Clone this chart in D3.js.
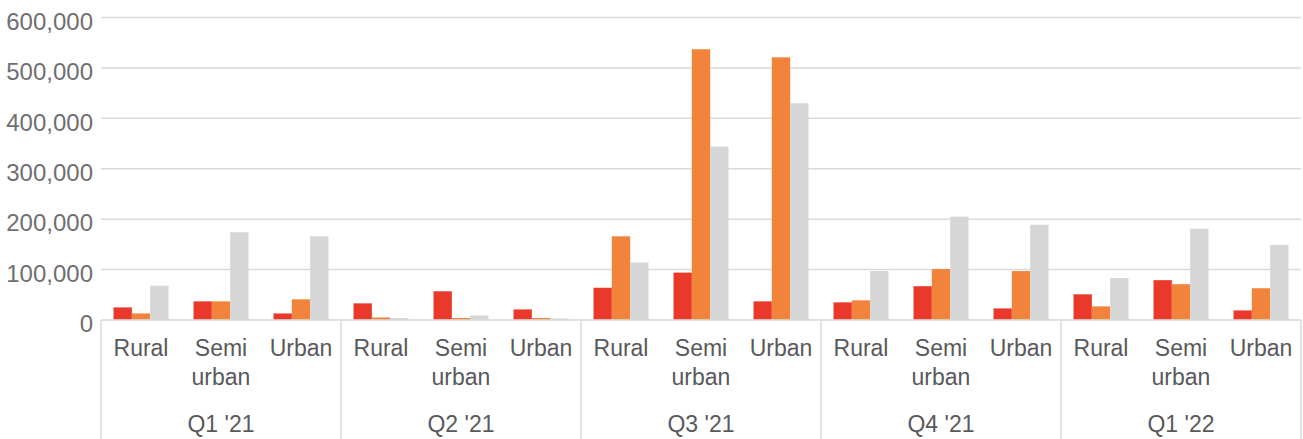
<!DOCTYPE html>
<html>
<head>
<meta charset="utf-8">
<script src="https://cdn.jsdelivr.net/npm/d3@7"></script>
<style>
  html, body { margin: 0; padding: 0; background: #fff; }
  svg { display: block; font-family: "Liberation Sans", Arial, Helvetica, sans-serif; }
</style>
</head>
<body>
<svg id="chart" width="1303" height="439"></svg>
<script>
const quarters = ["Q1 '21", "Q2 '21", "Q3 '21", "Q4 '21", "Q1 '22"];
const areas = ["Rural", "Semi urban", "Urban"];
const seriesNames = ["Series A", "Series B", "Series C"];
// values per quarter, per area: [red, orange, gray]
const seriesA = [ // red
  [25000, 37000, 13000],
  [33000, 57000, 21000],
  [64000, 94000, 37000],
  [35000, 67000, 23000],
  [51000, 79000, 19000]
];
const seriesB = [ // orange
  [13000, 37000, 41000],
  [5000, 4000, 4000],
  [166000, 537000, 521000],
  [39000, 101000, 97000],
  [27000, 71000, 63000]
];
const seriesC = [ // gray
  [68000, 174000, 166000],
  [4000, 9000, 3000],
  [114000, 344000, 430000],
  [97000, 205000, 189000],
  [83000, 181000, 149000]
];
const yTicks = [0, 100000, 200000, 300000, 400000, 500000, 600000];
const colors = ["#e8392b", "#f1833a", "#d6d6d6"];

const svg = d3.select("#chart");
const plotLeft = 101, plotRight = 1301, plotTop = 17.5, plotBase = 320;

const y = d3.scaleLinear().domain([0, 600000]).range([plotBase, plotTop]);
const xQ = d3.scaleBand().domain(quarters).range([plotLeft, plotRight]).padding(0);
const xA = d3.scaleBand().domain(areas).range([0, xQ.bandwidth()])
  .paddingInner(0.3125).paddingOuter(0.15625);
const xS = d3.scaleBand().domain(seriesNames).range([0, xA.bandwidth()]).padding(0);

// gridlines
svg.append("g").selectAll("line").data(yTicks.filter(d => d > 0)).join("line")
  .attr("x1", plotLeft).attr("x2", plotRight)
  .attr("y1", d => y(d)).attr("y2", d => y(d))
  .attr("stroke", "#dadada").attr("stroke-width", 1.5);

// y-axis labels
const yAxis = d3.axisLeft(y).tickValues(yTicks).tickFormat(d3.format(",")).tickSize(0).tickPadding(8);
const ya = svg.append("g").attr("transform", `translate(${plotLeft},4)`).call(yAxis);
ya.select(".domain").remove();
ya.selectAll("text").attr("font-size", 24).attr("fill", "#6e6f72")
  .style("font-family", "'Liberation Sans', Arial, Helvetica, sans-serif");

// bars
const data = [];
quarters.forEach((q, qi) => {
  areas.forEach((a, ai) => {
    [seriesA, seriesB, seriesC].forEach((s, si) => {
      data.push({ q, a, s: seriesNames[si], v: s[qi][ai], c: colors[si] });
    });
  });
});
svg.append("g").selectAll("rect").data(data).join("rect")
  .attr("x", d => xQ(d.q) + xA(d.a) + xS(d.s))
  .attr("width", xS.bandwidth())
  .attr("y", d => y(d.v))
  .attr("height", d => y(0) - y(d.v))
  .attr("fill", d => d.c);

// baseline
svg.append("line").attr("x1", plotLeft).attr("x2", plotRight)
  .attr("y1", plotBase).attr("y2", plotBase)
  .attr("stroke", "#d9d9d9").attr("stroke-width", 2).attr("stroke-opacity", 0.8);

// vertical separators
const seps = quarters.map(q => xQ(q)).concat([plotRight]);
svg.append("g").selectAll("line").data(seps).join("line")
  .attr("x1", d => d).attr("x2", d => d)
  .attr("y1", plotBase).attr("y2", 439)
  .attr("stroke", "#d9d9d9").attr("stroke-width", 1.5);

// category labels
const lab = svg.append("g").attr("fill", "#58595b").attr("font-size", 23).attr("text-anchor", "middle");
quarters.forEach(q => {
  areas.forEach(a => {
    const cx = xQ(q) + xA(a) + xA.bandwidth() / 2;
    const words = a.split(" ");
    const t = lab.append("text").attr("x", cx).attr("y", 356);
    words.forEach((w, i) => {
      t.append("tspan").attr("x", cx).attr("y", 356 + i * 29).text(w);
    });
  });
  lab.append("text").attr("x", xQ(q) + xQ.bandwidth() / 2).attr("y", 432).text(q);
});
</script>
</body>
</html>
